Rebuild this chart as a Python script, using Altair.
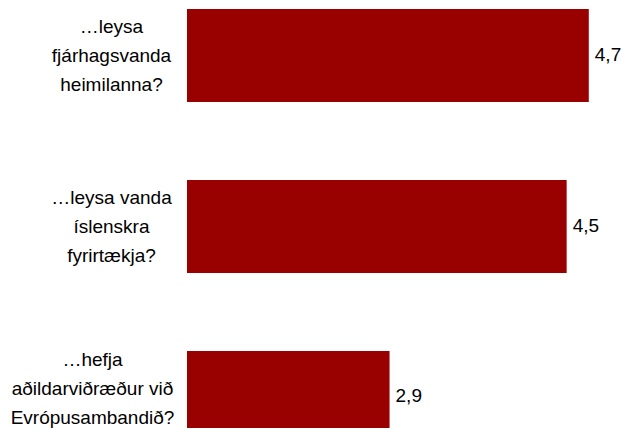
import altair as alt
import pandas as pd

# Data
CATEGORIES = [
    "…leysa|fjárhagsvanda|heimilanna?",
    "…leysa vanda|íslenskra|fyrirtækja?",
    "…hefja|aðildarviðræður við|Evrópusambandið?",
]
VALUES = [4.7, 4.5, 2.9]

BASE = 1.07
XMAX = 5.0
BAR_COLOR = "#990000"
FONT = "Liberation Sans"

df = pd.DataFrame({"q": CATEGORIES, "v": VALUES})

last_test = "datum.value == '%s'" % CATEGORIES[2]

y_enc = alt.Y(
    "q:N",
    sort=CATEGORIES,
    scale=alt.Scale(range=[0, 437], paddingInner=0.456, paddingOuter=0.006),
    axis=alt.Axis(
        title=None,
        ticks=False,
        domain=False,
        grid=False,
        labelAlign="center",
        labelBaseline="middle",
        labelExpr="split(datum.label, '|')",
        labelFont=FONT,
        labelFontSize=19,
        labelLineHeight=29,
        labelColor="#000000",
        labelLimit=0,
        labelOverlap=False,
        labelPadding={"condition": {"test": last_test, "value": 95}, "value": 76},
        labelOffset={"condition": {"test": last_test, "value": -37}, "value": -29},
    ),
)

x_enc = alt.X(
    "v:Q",
    scale=alt.Scale(domain=[BASE, XMAX], nice=False, zero=False),
    axis=None,
)

bars = alt.Chart(df).mark_bar(color=BAR_COLOR).encode(
    y=y_enc,
    x=x_enc,
    x2=alt.datum(BASE),
)

labels = (
    alt.Chart(df)
    .transform_calculate(lbl="replace(format(datum.v, '.1f'), '.', ',')")
    .mark_text(align="left", baseline="middle", dx=6, dy=-1, fontSize=19, font=FONT, color="#000000")
    .encode(y=alt.Y("q:N", sort=CATEGORIES), x=alt.X("v:Q"), text="lbl:N")
)

chart = (
    alt.layer(bars, labels)
    .properties(
        width=435,
        height=420,
        autosize=alt.AutoSizeParams(type="none"),
        padding={"left": 179, "right": 0, "top": 0, "bottom": 0},
        background="white",
    )
    .configure_view(stroke=None)
)

chart.save("out.html", embed_options={"renderer": "svg", "actions": False})
